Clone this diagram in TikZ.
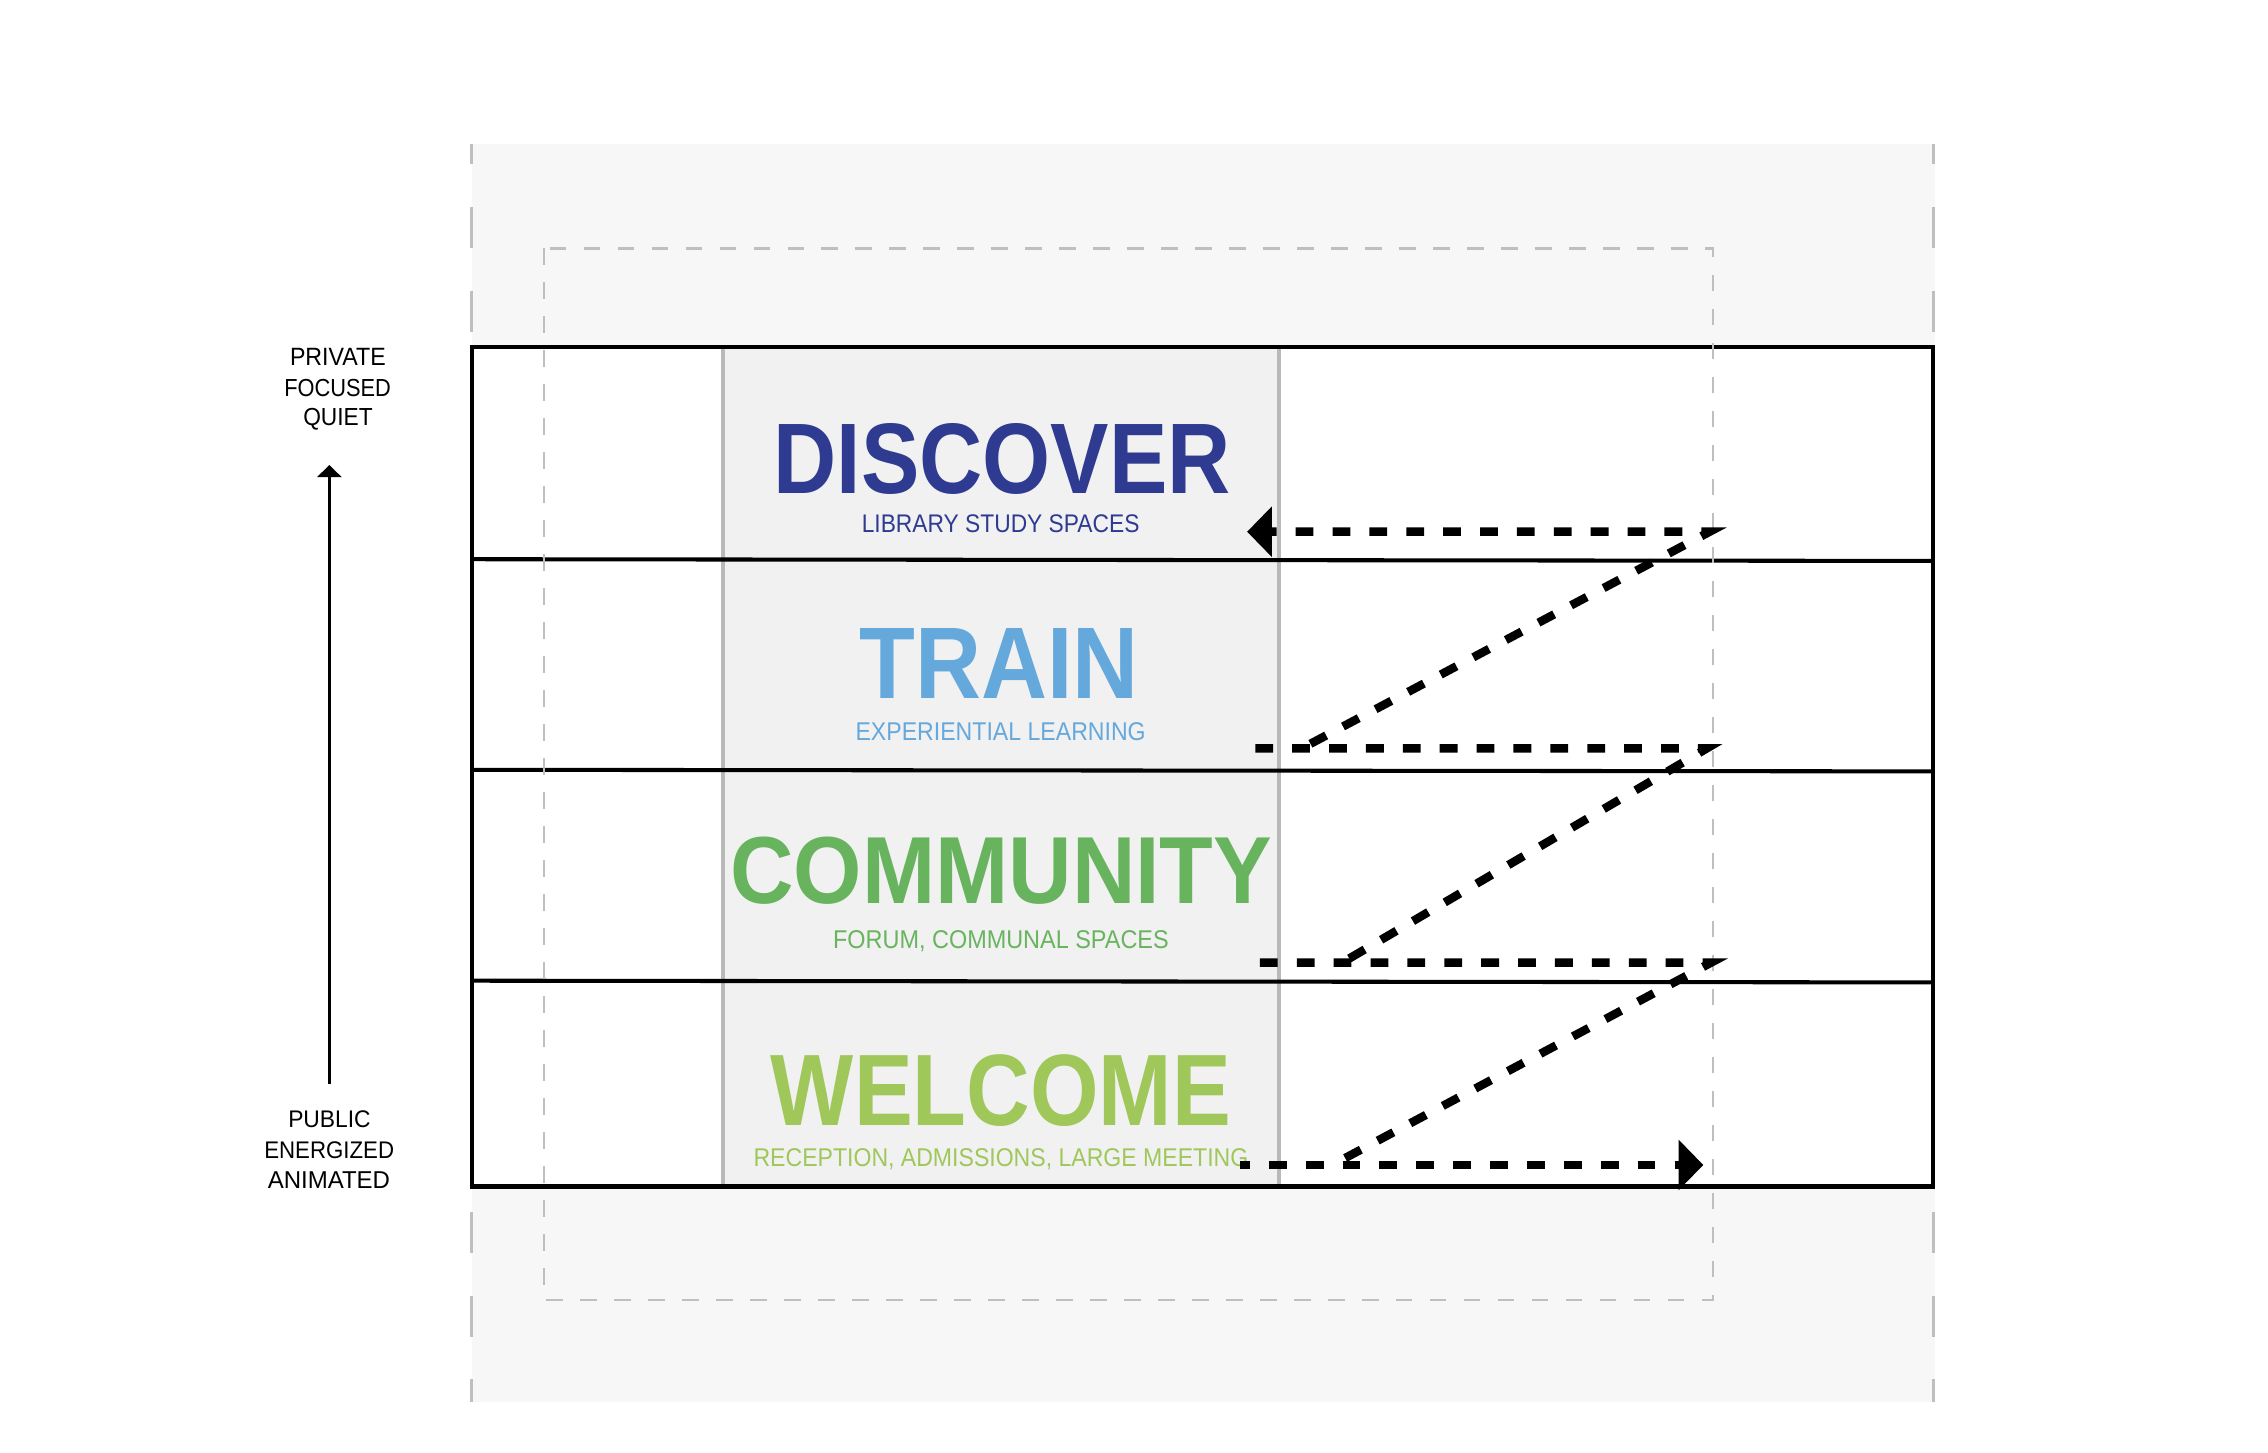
\documentclass[tikz,border=0pt]{standalone}
\usepackage{fontspec}
\setmainfont{Liberation Sans}
\usepackage{graphicx}
\usetikzlibrary{arrows.meta}
\newlength{\ux}\setlength{\ux}{0.015cm}
\newcommand{\fitbox}[3]{\resizebox{#1\ux}{#2\ux}{#3}}
\definecolor{bandgray}{HTML}{F7F7F7}
\definecolor{colgray}{HTML}{F1F1F1}
\definecolor{colline}{HTML}{B9B9B9}
\definecolor{dashgray}{HTML}{BFBFBF}
\definecolor{cdisc}{RGB}{46,59,145}
\definecolor{ctrain}{RGB}{101,168,220}
\definecolor{ccomm}{RGB}{104,180,94}
\definecolor{cwel}{RGB}{159,199,90}
\begin{document}
\begin{tikzpicture}[x=0.015cm,y=-0.015cm,
  edgedash/.style={draw=dashgray,line width=0.8pt,dash pattern=on 0.429cm off 0.4395cm,dash phase=0.2175cm},
  innerdash/.style={draw=dashgray,line width=0.8pt,dash pattern=on 0.1725cm off 0.18cm},
  frame/.style={draw=black,line width=1.2pt},
  colborder/.style={draw=colline,line width=1.1pt},
  txt/.style={anchor=base,inner sep=0pt,outer sep=0pt},
  flow/.style={draw=black,line width=2.5pt,line join=miter,dash pattern=on 0.1845cm off 0.198cm},
  bigtip/.style={-{Triangle[length=7.3pt,width=14.5pt]}},
  smalltip/.style={-{Triangle[length=3.6pt,width=7.2pt]}}]
\useasboundingbox[fill=white] (0,0) rectangle (1568,1004);
% background band
\fill[bandgray] (326.2,99.6) rectangle (1337.5,969);
\draw[edgedash] (326.2,99.6) -- (326.2,969);
\draw[edgedash] (1336.6,99.6) -- (1336.6,969);
% main block
\fill[white] (326,240) rectangle (1336.4,820.3);
\fill[colgray] (500,240) rectangle (884,820.3);
\draw[colborder] (500,240) -- (500,820.3);
\draw[colborder] (884,240) -- (884,820.3);
\draw[frame] (326,386.6) -- (1336.4,387.8);
\draw[frame] (326,532.2) -- (1336.4,533.3);
\draw[frame] (326,678) -- (1336.4,679.2);
\draw[frame] (326,240) rectangle (1336.4,820.3);
% inner dashed rectangle
\draw[innerdash] (376.1,171.7) rectangle (1184.2,898.8);
% titles
\node[txt] (discover) at (693,341.2) {\color{cdisc}\fitbox{316}{48.4}{\bfseries DISCOVER}};
\node[txt] (discoversub) at (691.8,368.3) {\color{cdisc}\fitbox{192}{12.3}{LIBRARY STUDY SPACES}};
\node[txt] (train) at (690.8,482.8) {\color{ctrain}\fitbox{193}{48.4}{\bfseries TRAIN}};
\node[txt] (trainsub) at (691.8,512.1) {\color{ctrain}\fitbox{200.6}{12.4}{EXPERIENTIAL LEARNING}};
\node[txt] (community) at (692.3,624.3) {\color{ccomm}\fitbox{374.6}{46}{\bfseries COMMUNITY}};
\node[txt] (communitysub) at (692,655.8) {\color{ccomm}\fitbox{232}{12.4}{FORUM, COMMUNAL SPACES}};
\node[txt] (welcome) at (692,778) {\color{cwel}\fitbox{318}{49}{\bfseries WELCOME}};
\node[txt] (welcomesub) at (692,806.5) {\color{cwel}\fitbox{342}{12.4}{RECEPTION, ADMISSIONS, LARGE MEETING}};
% side labels
\node[txt] (private) at (233.6,252.8) {\fitbox{66.2}{11.9}{PRIVATE}};
\node[txt] (focused) at (233.4,273.8) {\fitbox{73.7}{11.9}{FOCUSED}};
\node[txt] (quiet) at (233.7,294.3) {\fitbox{48}{11.9}{QUIET}};
\node[txt] (public) at (227.8,779.4) {\fitbox{57}{11.6}{PUBLIC}};
\node[txt] (energized) at (227.6,800.6) {\fitbox{89.7}{11.6}{ENERGIZED}};
\node[txt] (animated) at (227.4,821.6) {\fitbox{84.5}{11.6}{ANIMATED}};
% vertical scale arrow
\coordinate (v1) at (227.7,749.4);
\coordinate (v2) at (227.7,321.5);
\draw[line width=0.7pt,smalltip] (v1) -- (v2);
% flow arrows
\coordinate (a1) at (900,517.4);
\coordinate (a2) at (1182,367.6);
\coordinate (a3) at (862.2,367.6);
\coordinate (b1) at (928,665.5);
\coordinate (b2) at (1180,517.4);
\coordinate (b3) at (862.2,517.4);
\coordinate (c1) at (921,805.4);
\coordinate (c2) at (1183,665.5);
\coordinate (c3) at (862.2,665.5);
\coordinate (d1) at (857.4,805.4);
\coordinate (d2) at (1177.6,805.4);
\draw[flow,dash phase=0.281cm,bigtip] (a1) -- (a2) -- (a3);
\draw[flow,dash phase=0.298cm] (b1) -- (b2) -- (b3);
\draw[flow,dash phase=0.230cm] (c1) -- (c2) -- (c3);
\draw[flow,dash phase=0.0855cm,bigtip] (d1) -- (d2);
\end{tikzpicture}
\end{document}
